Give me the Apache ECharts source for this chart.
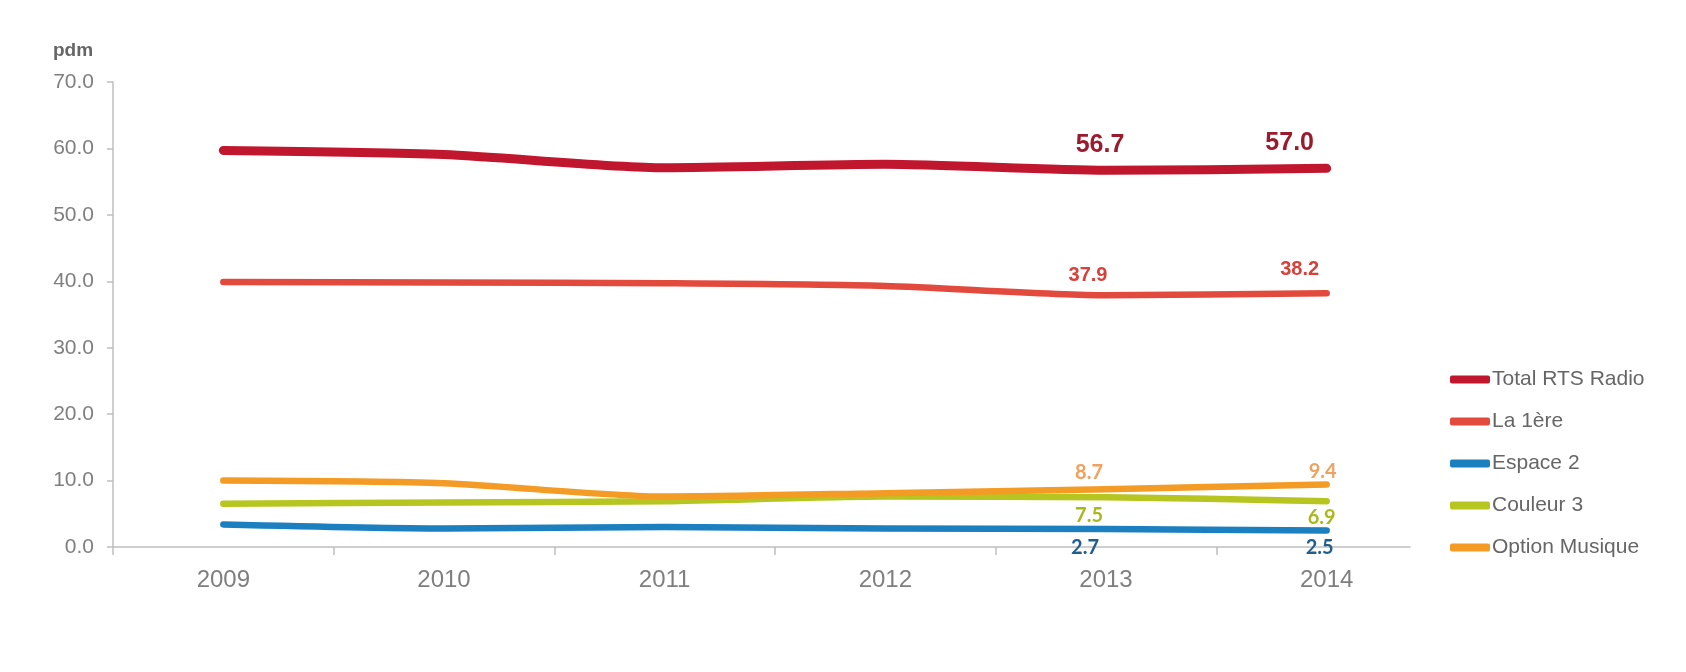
<!DOCTYPE html>
<html>
<head>
<meta charset="utf-8">
<script src="https://cdn.jsdelivr.net/npm/echarts@6/dist/echarts.min.js"></script>
<style>html,body{margin:0;padding:0;background:#fff;}#c{width:1686px;height:672px;}</style>
</head>
<body>
<div id="c"></div>
<script>
var years = ['2009', '2010', '2011', '2012', '2013', '2014'];
var totalRTS = [59.7, 59.1, 57.1, 57.6, 56.7, 57.0];
var la1ere = [39.9, 39.8, 39.7, 39.3, 37.9, 38.2];
var espace2 = [3.4, 2.8, 3.0, 2.8, 2.7, 2.5];
var couleur3 = [6.5, 6.7, 6.9, 7.6, 7.5, 6.9];
var optionMusique = [10.0, 9.6, 7.6, 8.1, 8.7, 9.4];
var yTicks = [0, 10, 20, 30, 40, 50, 60, 70];

var chart = echarts.init(document.getElementById('c'), null, {renderer: 'canvas'});

function buildData(values, labelled, offsets, labelStyle) {
  return values.map(function (v, i) {
    var k = labelled.indexOf(i);
    if (k < 0) return v;
    return {
      value: v,
      label: Object.assign({
        show: true,
        position: 'inside',
        offset: offsets[k],
        formatter: function (p) { return p.value.toFixed(1); }
      }, labelStyle)
    };
  });
}

function mkSeries(name, values, color, width, offsets, labelStyle) {
  return {
    name: name,
    type: 'line',
    xAxisIndex: 0,
    yAxisIndex: 0,
    data: buildData(values, [4, 5], offsets, labelStyle),
    smooth: 0.25,
    symbol: 'circle',
    symbolSize: 1,
    showSymbol: true,
    itemStyle: {color: color},
    lineStyle: {color: color, width: width, cap: 'round', join: 'round'},
    label: {show: false},
    emphasis: {disabled: true},
    z: 3
  };
}

var smallFont = {fontFamily: 'Lato', fontWeight: 'bold', fontSize: 20};
var axisGrey = '#bfbfbf';
// band-aligned decorative axis: one unit per category band, axis line stops short of plot end
var bandsShown = 5.878;
var bandTicks = years.map(function (y, i) { return i; });

var option = {
  animation: false,
  backgroundColor: '#ffffff',
  title: {
    text: 'pdm',
    left: 48,
    top: 36,
    textStyle: {fontFamily: 'Liberation Sans', fontWeight: 'bold', fontSize: 19, color: '#666666'}
  },
  grid: [
    {left: 113, right: 249, top: 82, bottom: 125, containLabel: false},
    {left: 113, right: 276, top: 82, bottom: 125, containLabel: false}
  ],
  legend: {
    orient: 'vertical',
    left: 1445,
    top: 364,
    itemWidth: 40,
    itemHeight: 8,
    itemGap: 21,
    icon: 'roundRect',
    textStyle: {fontFamily: 'Liberation Sans', fontSize: 21, color: '#666666', padding: [0, 0, 0, -3]},
    data: ['Total RTS Radio', 'La 1ère', 'Espace 2', 'Couleur 3', 'Option Musique']
  },
  xAxis: [
    {
      type: 'category',
      gridIndex: 0,
      data: years,
      boundaryGap: true,
      axisLine: {show: false},
      axisTick: {show: false},
      axisLabel: {fontFamily: 'Liberation Sans', fontSize: 24, color: '#7f7f7f', margin: 21},
      splitLine: {show: false}
    },
    {
      type: 'value',
      gridIndex: 1,
      min: 0,
      max: bandsShown,
      interval: 1,
      axisLine: {show: true, onZero: false, lineStyle: {color: axisGrey, width: 1.5}},
      axisTick: {show: true, length: 8, customValues: bandTicks, lineStyle: {color: axisGrey, width: 1.5}},
      axisLabel: {show: false},
      splitLine: {show: false}
    }
  ],
  yAxis: [
    {
      type: 'value',
      gridIndex: 0,
      min: yTicks[0],
      max: yTicks[yTicks.length - 1],
      interval: 10,
      axisLine: {show: true, lineStyle: {color: axisGrey, width: 1.5}},
      axisTick: {show: true, length: 6, lineStyle: {color: axisGrey, width: 1.5}},
      axisLabel: {fontFamily: 'Liberation Sans', fontSize: 21, color: '#7f7f7f', margin: 19,
        formatter: function (v) { return v.toFixed(1); }},
      splitLine: {show: false}
    },
    {
      type: 'value',
      gridIndex: 1,
      min: 0,
      max: 1,
      show: false
    }
  ],
  series: [
    mkSeries('Total RTS Radio', totalRTS, '#c0162e', 9, [[-6, -25], [-37, -25]],
      {fontFamily: 'Liberation Sans', fontWeight: 'bold', fontSize: 25, color: '#9c1a2e'}),
    mkSeries('La 1ère', la1ere, '#e24a3e', 6.5, [[-18, -20], [-27, -24]],
      {fontFamily: 'Liberation Sans', fontWeight: 'bold', fontSize: 20, color: '#d8403a'}),
    mkSeries('Espace 2', espace2, '#1b7fc0', 6.5, [[-21, 18], [-7, 17]],
      Object.assign({color: '#1f5e8e'}, smallFont)),
    mkSeries('Couleur 3', couleur3, '#b7c520', 6.5, [[-17, 18], [-5, 16]],
      Object.assign({color: '#a9b91c'}, smallFont)),
    mkSeries('Option Musique', optionMusique, '#f39b25', 6.5, [[-17, -17], [-4, -13]],
      Object.assign({color: '#f2a05e'}, smallFont))
  ]
};
chart.setOption(option);
</script>
</body>
</html>
